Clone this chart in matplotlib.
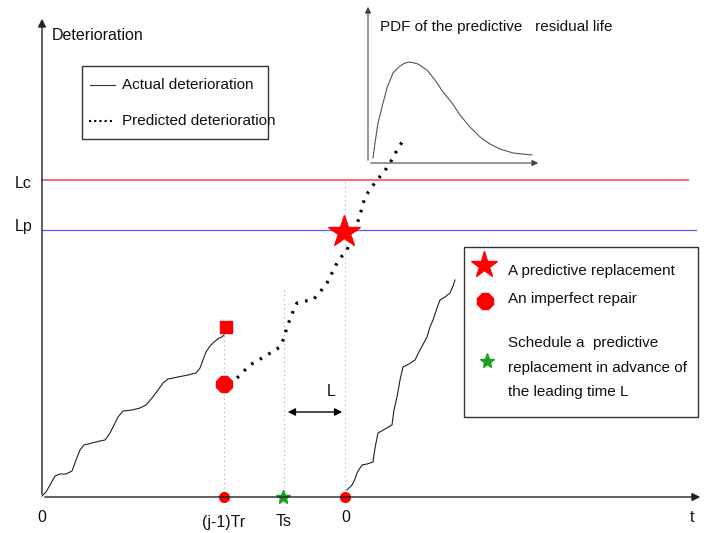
import matplotlib
matplotlib.use("Agg")
import matplotlib.pyplot as plt

plt.rcParams['font.family'] = ['Liberation Sans', 'DejaVu Sans']

# ---- data (schematic in pixel-like units) ----
actual1_x = [42, 46, 50, 55, 60, 66, 72, 76, 80, 84, 92, 100, 105, 110, 114, 118, 123, 132, 140, 146,
             152, 158, 163, 168, 178, 188, 196, 200, 203, 206, 210, 214, 219, 222, 224]
actual1_y = [496, 492, 485, 476, 474, 474, 471, 460, 450, 445, 443, 441, 440, 433, 425, 417, 411, 410, 408, 405,
             398, 390, 383, 379, 377, 375, 373, 368, 360, 352, 346, 342, 338, 337, 335]

actual2_x = [347, 349, 352, 355, 357, 360, 362, 367, 373, 375, 378, 385, 392, 394, 397, 400, 403, 409,
             415, 420, 427, 430, 433, 437, 440, 445, 450, 453, 455]
actual2_y = [490, 488, 485, 479, 473, 468, 465, 464, 462, 448, 433, 429, 425, 410, 397, 380, 367, 364,
             360, 350, 337, 327, 320, 308, 300, 297, 293, 286, 280]

pred_x = [237, 250, 262, 272, 280, 284, 287, 292, 297, 305, 313, 320, 327, 332, 337, 342, 347, 351, 355,
          360, 365, 371, 377, 384, 390, 396, 402]
pred_y = [378, 365, 358, 352, 347, 338, 327, 314, 303, 301, 300, 292, 283, 273, 263, 256, 250, 240, 230,
          215, 197, 188, 180, 172, 163, 152, 142]

pdf_x = [373, 375, 378, 382, 387, 393, 400, 405, 410, 418, 427, 435, 443, 452, 460, 470, 480, 490, 500,
         513, 532]
pdf_y = [158, 143, 123, 107, 88, 73, 66, 63, 62, 64, 70, 80, 92, 103, 115, 127, 137, 144, 149, 153, 155]

Lc_y, Lp_y = 180, 230
t_repair, t_sched, t_replace = 224, 284, 345
repair_high, repair_low = 327, 384
star_y = 232

tick_labels = ["0", "(j-1)Tr", "Ts", "0"]
tick_pos = [42, 224, 284, 346]

# ---- figure ----
fig = plt.figure(figsize=(7.24, 5.33), dpi=100)
ax = fig.add_axes([0, 0, 1, 1])
ax.set_xlim(0, 724)
ax.set_ylim(533, 0)
ax.axis('off')

axis_col = '#222222'
arrow = dict(arrowstyle='-|>', color=axis_col, lw=1, mutation_scale=12)
# main axes
ax.annotate('', xy=(42, 16), xytext=(42, 497), arrowprops=arrow)
ax.annotate('', xy=(703, 497), xytext=(42, 497), arrowprops=arrow)
ax.text(52, 35, 'Deterioration', fontsize=11.5, va='center', ha='left', color='#111111')
ax.text(692, 518, 't', fontsize=11.5, va='center', ha='center', color='#111111')

# thresholds
ax.plot([42, 688], [Lc_y, Lc_y], color='#ff6666', lw=1.4)
ax.plot([42, 696], [Lp_y, Lp_y], color='#5a5aff', lw=0.9)
ax.text(15, 183, 'Lc', fontsize=11.5, va='center', ha='left', color='#111111')
ax.text(15, 227, 'Lp', fontsize=11.5, va='center', ha='left', color='#111111')

# vertical dotted guides
guide = dict(color='#aaaaaa', lw=0.8, ls=(0, (1, 3)))
ax.plot([t_repair, t_repair], [repair_high, 497], **guide)
ax.plot([t_sched, t_sched], [290, 497], **guide)
ax.plot([t_replace, t_replace], [Lc_y + 2, 497], **guide)

# actual deterioration
ax.plot(actual1_x, actual1_y, color='#222222', lw=0.8)
ax.plot(actual2_x, actual2_y, color='#222222', lw=0.8)

# predicted deterioration
ax.plot(pred_x, pred_y, color='black', lw=2.3, ls=(0, (0.8, 2.3)))

# markers
ax.plot(226, repair_high, marker='s', color='red', ms=9, mec='red')
ax.plot(t_repair, repair_low, marker='8', color='red', ms=13, mec='red')
ax.plot(t_replace - 1, star_y, marker='*', color='red', ms=24, mec='red')
ax.plot([t_repair, t_replace], [497, 497], 'o', color='red', ms=7, mec='red', clip_on=False)
ax.plot(t_sched - 1, 497, marker='*', color='#1aa31a', ms=10, mec='#1aa31a')

# leading time L
ax.annotate('', xy=(345, 412), xytext=(285, 412),
            arrowprops=dict(arrowstyle='<|-|>', color='black', lw=1, mutation_scale=11))
ax.text(331, 391, 'L', fontsize=11.5, va='center', ha='center', color='#111111')

# bottom labels
for p, lab in zip(tick_pos, tick_labels):
    yy = 518 if lab == "0" else 522
    ax.text(p, yy, lab, fontsize=11.5, va='center', ha='center', color='#111111')

# inset PDF
ax.annotate('', xy=(368, 4), xytext=(368, 163), arrowprops=dict(arrowstyle='-|>', color='#444444', lw=0.8, mutation_scale=9))
ax.annotate('', xy=(541, 163), xytext=(368, 163), arrowprops=dict(arrowstyle='-|>', color='#444444', lw=0.8, mutation_scale=9))
ax.plot(pdf_x, pdf_y, color='#555555', lw=0.8)
ax.text(380, 27, 'PDF of the predictive   residual life', fontsize=11, va='center', ha='left', color='#111111')

# legend 1
ax.add_patch(plt.Rectangle((82, 66), 186, 73, fill=False, ec='#333333', lw=1))
ax.plot([90, 115], [85, 85], color='#333333', lw=0.8)
ax.text(122, 85, 'Actual deterioration', fontsize=11, va='center', ha='left', color='#111111')
ax.plot([89, 115], [121, 121], color='black', lw=1.5, ls=(0, (1, 1.5)))
ax.text(122, 121, 'Predicted deterioration', fontsize=11, va='center', ha='left', color='#111111')

# legend 2
ax.add_patch(plt.Rectangle((464, 247), 234, 170, fill=False, ec='#333333', lw=1))
ax.plot(484, 265, marker='*', color='red', ms=20, mec='red')
ax.text(508, 271, 'A predictive replacement', fontsize=11, va='center', ha='left', color='#111111')
ax.plot(485, 301, marker='8', color='red', ms=12, mec='red')
ax.text(508, 299, 'An imperfect repair', fontsize=11, va='center', ha='left', color='#111111')
ax.plot(487, 361, marker='*', color='#1aa31a', ms=11, mec='#1aa31a')
ax.text(508, 343, 'Schedule a  predictive', fontsize=11, va='center', ha='left', color='#111111')
ax.text(508, 368, 'replacement in advance of', fontsize=11, va='center', ha='left', color='#111111')
ax.text(508, 392, 'the leading time L', fontsize=11, va='center', ha='left', color='#111111')

fig.savefig('out.png', dpi=100)
